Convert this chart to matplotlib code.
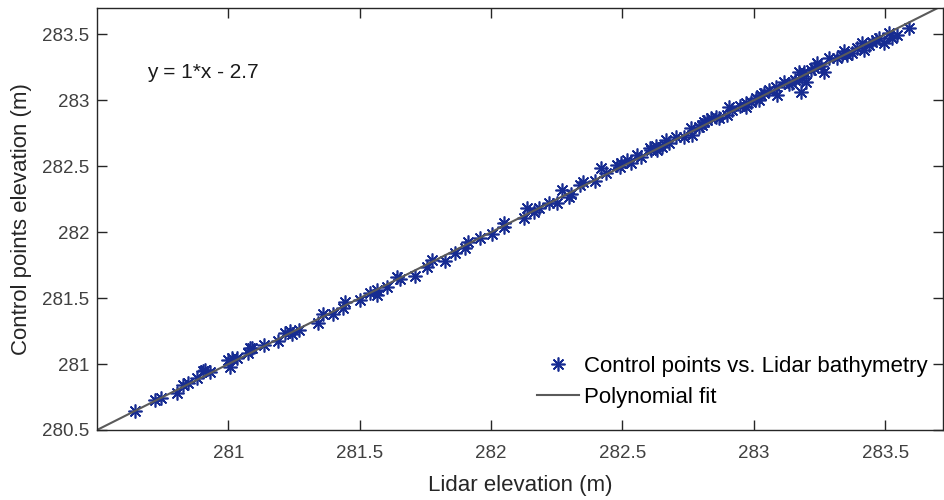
import matplotlib

matplotlib.use("Agg")
import matplotlib.pyplot as plt
import numpy as np

# Lidar elevation vs. surveyed control point elevation (m)
lidar_elev = [
    280.645, 280.721, 280.743, 280.804, 280.827, 280.846, 280.880, 280.903, 280.911, 280.930,
    280.998, 281.006, 281.013, 281.032, 281.074, 281.082, 281.089, 281.135, 281.188, 281.215,
    281.234, 281.241, 281.268, 281.340, 281.359, 281.397, 281.435, 281.443, 281.500, 281.538,
    281.565, 281.565, 281.603, 281.641, 281.652, 281.709, 281.755, 281.774, 281.823, 281.861,
    281.899, 281.911, 281.956, 282.002, 282.051, 282.051, 282.124, 282.135, 282.165, 282.184,
    282.222, 282.249, 282.268, 282.298, 282.306, 282.337, 282.348, 282.394, 282.420, 282.439,
    282.481, 282.489, 282.496, 282.519, 282.534, 282.557, 282.572, 282.603, 282.610, 282.626,
    282.633, 282.652, 282.667, 282.679, 282.705, 282.736, 282.762, 282.766, 282.793, 282.804,
    282.812, 282.823, 282.838, 282.857, 282.869, 282.899, 282.907, 282.918, 282.949, 282.971,
    282.971, 282.990, 283.010, 283.021, 283.029, 283.040, 283.059, 283.086, 283.089, 283.116,
    283.135, 283.146, 283.158, 283.173, 283.181, 283.184, 283.192, 283.200, 283.219, 283.230,
    283.241, 283.257, 283.268, 283.287, 283.317, 283.337, 283.344, 283.356, 283.375, 283.394,
    283.413, 283.420, 283.439, 283.451, 283.466, 283.477, 283.496, 283.515, 283.527, 283.546,
    283.591,
]
control_elev = [
    280.644, 280.727, 280.742, 280.780, 280.841, 280.856, 280.894, 280.947, 280.955, 280.939,
    281.030, 280.977, 281.045, 281.045, 281.083, 281.121, 281.121, 281.144, 281.174, 281.235,
    281.250, 281.227, 281.258, 281.311, 281.379, 281.379, 281.424, 281.470, 281.485, 281.538,
    281.523, 281.561, 281.583, 281.659, 281.644, 281.667, 281.735, 281.788, 281.780, 281.841,
    281.879, 281.924, 281.955, 281.985, 282.038, 282.068, 282.106, 282.182, 282.152, 282.182,
    282.220, 282.220, 282.318, 282.265, 282.288, 282.356, 282.379, 282.386, 282.485, 282.447,
    282.508, 282.492, 282.523, 282.545, 282.523, 282.583, 282.568, 282.636, 282.621, 282.652,
    282.621, 282.644, 282.697, 282.674, 282.720, 282.720, 282.788, 282.735, 282.795, 282.811,
    282.833, 282.848, 282.864, 282.871, 282.864, 282.886, 282.947, 282.924, 282.955, 282.977,
    282.947, 282.985, 283.015, 283.000, 283.038, 283.053, 283.076, 283.098, 283.038, 283.136,
    283.121, 283.129, 283.152, 283.212, 283.061, 283.167, 283.212, 283.136, 283.227, 283.242,
    283.280, 283.258, 283.212, 283.318, 283.318, 283.341, 283.371, 283.341, 283.356, 283.394,
    283.432, 283.379, 283.417, 283.439, 283.455, 283.470, 283.432, 283.508, 283.470, 283.492,
    283.545,
]

# first-order polynomial fit as shown on the axes
fit_slope = 1.0
fit_offset = 0.0
fit_label = "y = 1*x - 2.7"

x_ticks = [281, 281.5, 282, 282.5, 283, 283.5]
y_ticks = [280.5, 281, 281.5, 282, 282.5, 283, 283.5]
x_limits = (280.5, 283.72)
y_limits = (280.5, 283.70)

plt.rcParams["font.family"] = ["Liberation Sans", "DejaVu Sans"]

fig = plt.figure(figsize=(9.45, 5.0), dpi=100)
ax = fig.add_axes([0.1026, 0.14, 0.8953, 0.844])

ax.plot(lidar_elev, control_elev, linestyle="none", marker=(8, 2, 0),
        markersize=10, markeredgewidth=1.2, color="#172c92",
        label="Control points vs. Lidar bathymetry")

xf = np.array(x_limits)
ax.plot(xf, fit_slope * xf + fit_offset, color="#5a5a5a", lw=1.5,
        label="Polynomial fit")

ax.set_xlim(*x_limits)
ax.set_ylim(*y_limits)
ax.set_xticks(x_ticks)
ax.set_yticks(y_ticks)
ax.set_xticklabels([f"{v:g}" for v in x_ticks])
ax.set_yticklabels([f"{v:g}" for v in y_ticks])

ax.tick_params(direction="in", length=7, width=1, colors="#262626",
               labelsize=13.5, top=True, right=True)
ax.tick_params(axis="x", pad=11, labelcolor="#404040")
ax.tick_params(axis="y", pad=5.5, labelcolor="#404040")
for sp in ax.spines.values():
    sp.set_color("#262626")
    sp.set_linewidth(1)

ax.set_xlabel("Lidar elevation (m)", fontsize=16, color="#262626", labelpad=9)
ax.set_ylabel("Control points elevation (m)", fontsize=16, color="#262626", labelpad=7)

ax.text(0.059, 0.848, fit_label, transform=ax.transAxes, fontsize=15,
        color="#1a1a1a", va="center", ha="left")

ax.legend(loc="lower right", bbox_to_anchor=(1.006, 0.005), frameon=False,
          fontsize=16, handlelength=1.9, handletextpad=0.25, labelspacing=0.45,
          borderaxespad=0.5)

fig.savefig("out.png", dpi=100)
